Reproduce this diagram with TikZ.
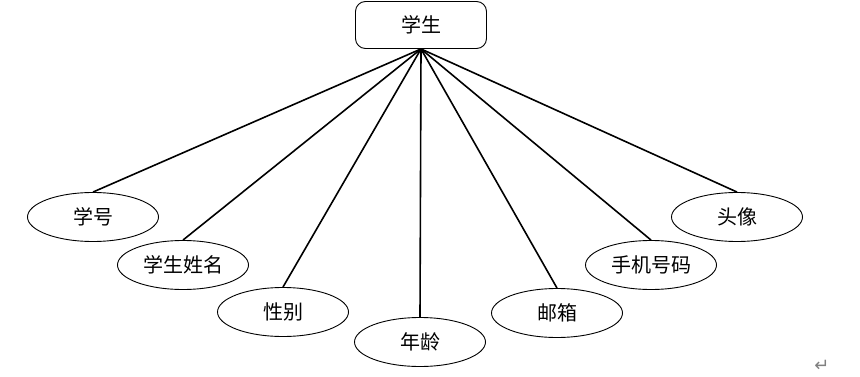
\documentclass[tikz,border=0pt]{standalone}
\usepackage{fontspec}
\usetikzlibrary{shapes.geometric}
\setmainfont{Noto Sans CJK SC}
\newfontfamily\symfont{DejaVu Sans}
\begin{document}
\begin{tikzpicture}[x=1pt,y=-1pt,
  attr/.style={draw=black,line width=0.9pt,ellipse,minimum width=131pt,minimum height=49pt,inner sep=0pt,font=\fontsize{20}{20}\selectfont},
  entity/.style={draw=black,line width=0.9pt,rounded corners=10pt,minimum width=131pt,minimum height=47pt,inner sep=0pt,font=\fontsize{20}{20}\selectfont},
  link/.style={line width=1.6pt}]
\useasboundingbox (0,0) rectangle (860,377);
\node[entity] (stu) at (421,25) {学生};
\node[attr] (a1) at (93,217) {学号};
\node[attr] (a2) at (183,265) {学生姓名};
\node[attr] (a3) at (283,312) {性别};
\node[attr] (a4) at (420,342) {年龄};
\node[attr] (a5) at (557,313) {邮箱};
\node[attr] (a6) at (651,265) {手机号码};
\node[attr] (a7) at (737,217) {头像};
\foreach \n in {a1,a2,a3,a4,a5,a6,a7}
  \draw[link] (stu.south) -- (\n.north);
\node[text=gray,font=\symfont\fontsize{18}{18}\selectfont] (ret) at (822,366) {↵};
\end{tikzpicture}
\end{document}
